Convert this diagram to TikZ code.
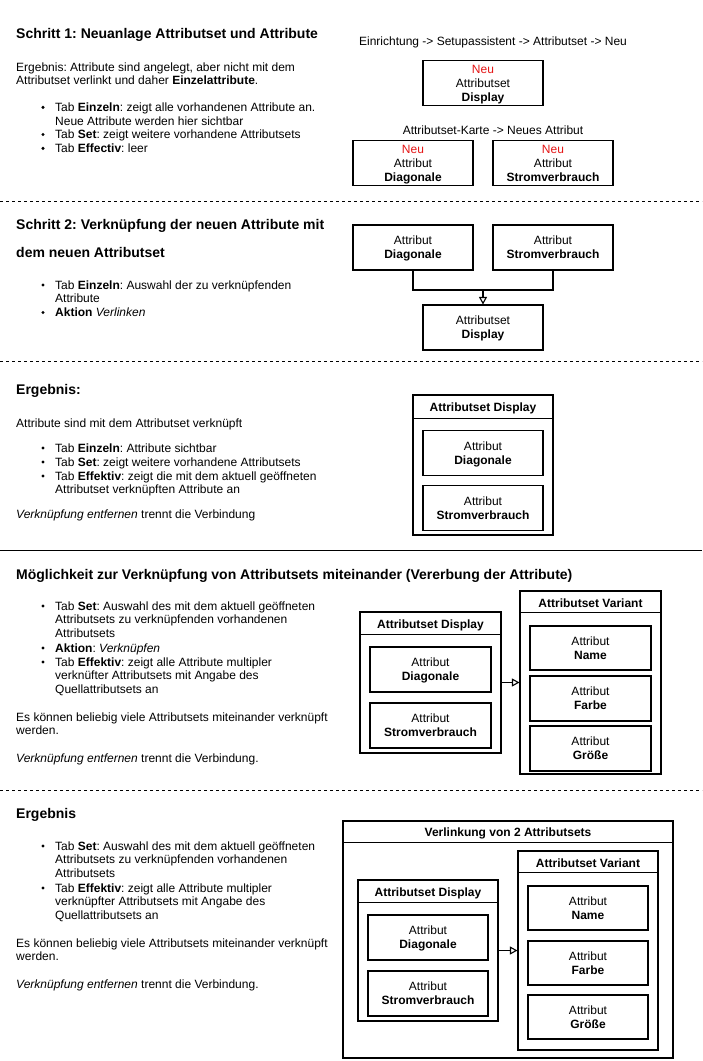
\documentclass[tikz,border=0pt]{standalone}
\usepackage{fontspec}
\setmainfont{Liberation Sans}
\usetikzlibrary{arrows.meta}
\definecolor{neured}{RGB}{228,20,20}
\newcommand{\mlines}[1]{\begin{tabular}[t]{@{}l@{}}#1\end{tabular}}
\frenchspacing
\begin{document}
\begin{tikzpicture}[x=1pt,y=-1pt,
  body/.style={anchor=base west, inner sep=0, font=\fontsize{12}{13.8}\selectfont},
  ttl/.style={anchor=base west, inner sep=0, font=\fontsize{14}{16}\selectfont\bfseries},
  box/.style={draw, line width=1.1pt, minimum width=120pt, minimum height=45pt, align=center, font=\fontsize{12}{14}\selectfont, inner sep=0, text depth=-2pt},
  cont/.style={draw, line width=1.1pt, inner sep=0},
  hdr/.style={font=\fontsize{12}{14}\selectfont\bfseries, inner sep=0},
  bul/.style={fill, circle, inner sep=0, minimum size=3.4pt},
  sepd/.style={line width=0.8pt, dash pattern=on 3pt off 3pt},
  arr/.style={line width=1.1pt, -{Triangle[open, length=7.5pt, width=8pt]}},
  lnk/.style={line width=1.1pt}
]
\path[use as bounding box] (0,0) rectangle (702,1061);

% ---------------- Section 1
\node[ttl] (t1) at (16,38) {Schritt 1: Neuanlage Attributset und Attribute};
\node[body] (p1) at (16,71) {\mlines{Ergebnis: Attribute sind angelegt, aber nicht mit dem\\Attributset verlinkt und daher \textbf{Einzelattribute}.}};
\node[bul] (b11) at (43,107.3) {};
\node[body] (i11) at (55,111.3) {\mlines{Tab \textbf{Einzeln}: zeigt alle vorhandenen Attribute an.\\Neue Attribute werden hier sichtbar}};
\node[bul] (b12) at (43,134.5) {};
\node[body] (i12) at (55,138.5) {Tab \textbf{Set}: zeigt weitere vorhandene Attributsets};
\node[bul] (b13) at (43,148.3) {};
\node[body] (i13) at (55,152.3) {Tab \textbf{Effectiv}: leer};

\node[body, anchor=base] (l1) at (493,45) {Einrichtung -> Setupassistent -> Attributset -> Neu};
\node[box] (n1) at (483,83) {\textcolor{neured}{Neu}\\Attributset\\\textbf{Display}};
\node[body, anchor=base] (l2) at (493,134) {Attributset-Karte -> Neues Attribut};
\node[box] (n2) at (413,163) {\textcolor{neured}{Neu}\\Attribut\\\textbf{Diagonale}};
\node[box] (n3) at (553,163) {\textcolor{neured}{Neu}\\Attribut\\\textbf{Stromverbrauch}};

\coordinate (s1a) at (0,201);
\coordinate (s1b) at (702,201);
\draw[sepd] (s1a) -- (s1b);

% ---------------- Section 2
\node[ttl] (t2a) at (16,229) {Schritt 2: Verknüpfung der neuen Attribute mit};
\node[ttl] (t2b) at (16,257) {dem neuen Attributset};
\node[bul] (b21) at (43,285) {};
\node[body] (i21) at (55,289) {\mlines{Tab \textbf{Einzeln}: Auswahl der zu verknüpfenden\\Attribute}};
\node[bul] (b22) at (43,312.5) {};
\node[body] (i22) at (55,316.5) {\textbf{Aktion} \textit{Verlinken}};

\node[box] (d2) at (413,247.5) {Attribut\\\textbf{Diagonale}};
\node[box] (s2) at (553,247.5) {Attribut\\\textbf{Stromverbrauch}};
\node[box] (ds2) at (483,327.5) {Attributset\\\textbf{Display}};
\coordinate (j2) at (483,290);
\draw[lnk] (d2.south) -- (d2.south |- j2) -- (s2.south |- j2) -- (s2.south);
\draw[arr] (j2) -- (ds2.north);

\coordinate (s2a) at (0,361);
\coordinate (s2b) at (702,361);
\draw[sepd] (s2a) -- (s2b);

% ---------------- Section 3
\node[ttl] (t3) at (16,394) {Ergebnis:};
\node[body] (p3) at (16,427) {Attribute sind mit dem Attributset verknüpft};
\node[bul] (b31) at (43,448) {};
\node[body] (i31) at (55,452) {Tab \textbf{Einzeln}: Attribute sichtbar};
\node[bul] (b32) at (43,462) {};
\node[body] (i32) at (55,466) {Tab \textbf{Set}: zeigt weitere vorhandene Attributsets};
\node[bul] (b33) at (43,476) {};
\node[body] (i33) at (55,480) {\mlines{Tab \textbf{Effektiv}: zeigt die mit dem aktuell geöffneten\\Attributset verknüpften Attribute an}};
\node[body] (p3b) at (16,518) {\textit{Verknüpfung entfernen} trennt die Verbindung};

\node[cont, minimum width=140pt, minimum height=140pt] (c3) at (483,465) {};
\draw[lnk] ([yshift=-24pt]c3.north west) -- ([yshift=-24pt]c3.north east);
\node[hdr] (h3) at ([yshift=-14pt]c3.north) {Attributset Display};
\node[box] (c3d) at (483,453) {Attribut\\\textbf{Diagonale}};
\node[box] (c3s) at (483,508) {Attribut\\\textbf{Stromverbrauch}};

\coordinate (s3a) at (0,550);
\coordinate (s3b) at (702,550);
\draw[line width=0.9pt] (s3a) -- (s3b);

% ---------------- Section 4
\node[ttl] (t4) at (16,579) {Möglichkeit zur Verknüpfung von Attributsets miteinander (Vererbung der Attribute)};
\node[bul] (b41) at (43,606) {};
\node[body] (i41) at (55,610) {\mlines{Tab \textbf{Set}: Auswahl des mit dem aktuell geöffneten\\Attributsets zu verknüpfenden vorhandenen\\Attributsets}};
\node[bul] (b42) at (43,648) {};
\node[body] (i42) at (55,652) {\textbf{Aktion}: \textit{Verknüpfen}};
\node[bul] (b43) at (43,662) {};
\node[body] (i43) at (55,666) {\mlines{Tab \textbf{Effektiv}: zeigt alle Attribute multipler\\verknüfter Attributsets mit Angabe des\\Quellattributsets an}};
\node[body] (p4) at (16,721) {\mlines{Es können beliebig viele Attributsets miteinander verknüpft\\werden.}};
\node[body] (p4b) at (16,762) {\textit{Verknüpfung entfernen} trennt die Verbindung.};

\node[cont, minimum width=141pt, minimum height=141pt] (c4a) at (430.5,682.5) {};
\draw[lnk] ([yshift=-23pt]c4a.north west) -- ([yshift=-23pt]c4a.north east);
\node[hdr] (h4a) at ([yshift=-13.5pt]c4a.north) {Attributset Display};
\node[box, minimum width=121pt] (c4ad) at (430.5,669.5) {Attribut\\\textbf{Diagonale}};
\node[box, minimum width=121pt] (c4as) at (430.5,725.5) {Attribut\\\textbf{Stromverbrauch}};

\node[cont, minimum width=141pt, minimum height=183pt] (c4b) at (590.5,682.5) {};
\draw[lnk] ([yshift=-22pt]c4b.north west) -- ([yshift=-22pt]c4b.north east);
\node[hdr] (h4b) at ([yshift=-12.5pt]c4b.north) {Attributset Variant};
\node[box, minimum width=121pt, minimum height=44pt] (c4bn) at (590.5,648) {Attribut\\\textbf{Name}};
\node[box, minimum width=121pt] (c4bf) at (590.5,698.5) {Attribut\\\textbf{Farbe}};
\node[box, minimum width=121pt] (c4bg) at (590.5,748.5) {Attribut\\\textbf{Größe}};
\draw[arr] (c4a.east) -- (c4b.west);

\coordinate (s4a) at (0,790);
\coordinate (s4b) at (702,790);
\draw[sepd] (s4a) -- (s4b);

% ---------------- Section 5
\node[ttl] (t5) at (16,818) {Ergebnis};
\node[bul] (b51) at (43,846) {};
\node[body] (i51) at (55,850) {\mlines{Tab \textbf{Set}: Auswahl des mit dem aktuell geöffneten\\Attributsets zu verknüpfenden vorhandenen\\Attributsets}};
\node[bul] (b52) at (43,888) {};
\node[body] (i52) at (55,892) {\mlines{Tab \textbf{Effektiv}: zeigt alle Attribute multipler\\verknüpfter Attributsets mit Angabe des\\Quellattributsets an}};
\node[body] (p5) at (16,947) {\mlines{Es können beliebig viele Attributsets miteinander verknüpft\\werden.}};
\node[body] (p5b) at (16,988) {\textit{Verknüpfung entfernen} trennt die Verbindung.};

\node[cont, minimum width=330pt, minimum height=237pt] (c5) at (508,939.5) {};
\draw[lnk] ([yshift=-22pt]c5.north west) -- ([yshift=-22pt]c5.north east);
\node[hdr] (h5) at ([yshift=-12.5pt]c5.north) {Verlinkung von 2 Attributsets};

\node[cont, minimum width=140pt, minimum height=141pt] (c5a) at (428,950.5) {};
\draw[lnk] ([yshift=-23pt]c5a.north west) -- ([yshift=-23pt]c5a.north east);
\node[hdr] (h5a) at ([yshift=-13.5pt]c5a.north) {Attributset Display};
\node[box] (c5ad) at (428,937.5) {Attribut\\\textbf{Diagonale}};
\node[box] (c5as) at (428,993.5) {Attribut\\\textbf{Stromverbrauch}};

\node[cont, minimum width=140pt, minimum height=199pt] (c5b) at (588,950.5) {};
\draw[lnk] ([yshift=-22pt]c5b.north west) -- ([yshift=-22pt]c5b.north east);
\node[hdr] (h5b) at ([yshift=-12.5pt]c5b.north) {Attributset Variant};
\node[box, minimum height=44pt] (c5bn) at (588,908) {Attribut\\\textbf{Name}};
\node[box, minimum height=44pt] (c5bf) at (588,963) {Attribut\\\textbf{Farbe}};
\node[box, minimum height=44pt] (c5bg) at (588,1017) {Attribut\\\textbf{Größe}};
\draw[arr] (c5a.east) -- (c5b.west);
\end{tikzpicture}
\end{document}
